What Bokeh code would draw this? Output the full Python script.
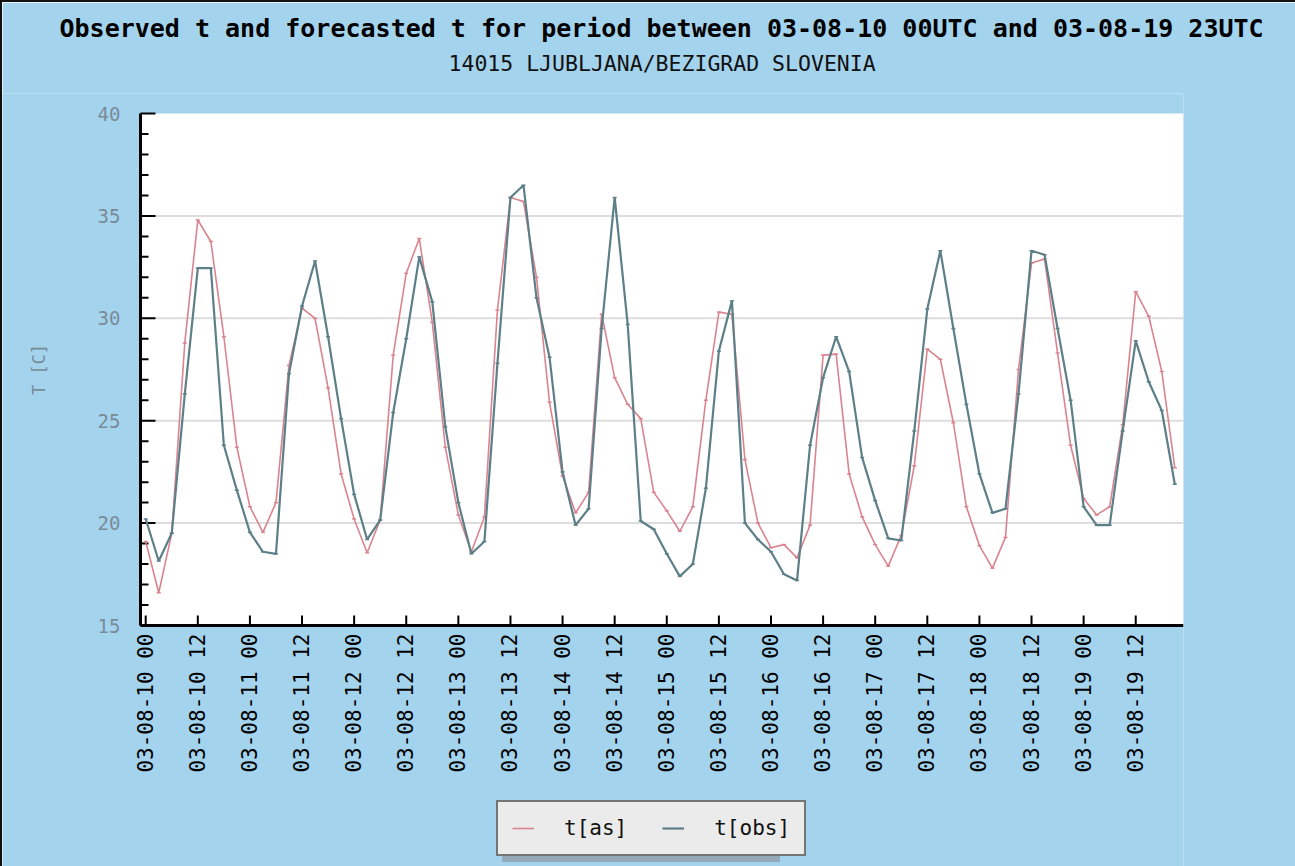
import math
from bokeh.plotting import figure
from bokeh.models import (Range1d, Title, Legend, LegendItem,
                          ColumnDataSource, BoxAnnotation)
from bokeh.core.properties import value
from bokeh.embed import file_html
from bokeh.resources import INLINE

# ---- data (3-hourly, 03-08-10 00UTC .. 03-08-19 21UTC) ----
days = ["10", "11", "12", "13", "14", "15", "16", "17", "18", "19"]
hours_of_day = [0, 3, 6, 9, 12, 15, 18, 21]

t_as = [
    19.1, 16.6, 19.5, 28.8, 34.8, 33.75, 29.1, 23.7,
    20.8, 19.55, 21.0, 27.7, 30.5, 30.0, 26.6, 22.4,
    20.2, 18.55, 20.15, 28.2, 32.2, 33.9, 29.8, 23.7,
    20.4, 18.6, 20.3, 30.4, 35.9, 35.7, 32.0, 25.9,
    22.3, 20.5, 21.5, 30.2, 27.1, 25.8, 25.1, 21.5,
    20.6, 19.6, 20.8, 26.0, 30.3, 30.2, 23.1, 20.0,
    18.8, 18.95, 18.3, 19.9, 28.2, 28.25, 22.4, 20.3,
    18.95, 17.9, 19.4, 22.8, 28.5, 28.0, 24.9, 20.8,
    18.9, 17.8, 19.3, 27.5, 32.7, 32.9, 28.3, 23.8,
    21.2, 20.4, 20.8, 24.8, 31.3, 30.1, 27.4, 22.7,
]

t_obs = [
    20.2, 18.15, 19.5, 26.3, 32.45, 32.45, 23.8, 21.6,
    19.55, 18.6, 18.5, 27.3, 30.6, 32.8, 29.1, 25.1,
    21.4, 19.2, 20.15, 25.4, 29.0, 33.0, 30.8, 24.7,
    21.0, 18.5, 19.1, 27.8, 35.9, 36.5, 31.0, 28.1,
    22.5, 19.9, 20.7, 29.5, 35.9, 29.7, 20.1, 19.7,
    18.5, 17.4, 18.0, 21.7, 28.4, 30.85, 20.0, 19.2,
    18.6, 17.5, 17.2, 23.8, 27.1, 29.1, 27.4, 23.2,
    21.1, 19.25, 19.15, 24.5, 30.45, 33.3, 29.5, 25.8,
    22.4, 20.5, 20.7, 26.3, 33.3, 33.1, 29.5, 26.0,
    20.8, 19.9, 19.9, 24.5, 28.9, 26.9, 25.5, 21.9,
]

y_ticks = [15, 20, 25, 30, 35, 40]
y_minor = [v for v in range(15, 41) if v % 5]
y_label = "T [C]"
title_text = "Observed t and forecasted t for period between 03-08-10 00UTC and 03-08-19 23UTC"
subtitle_text = "14015 LJUBLJANA/BEZIGRAD SLOVENIA"

# time axis in hours since 03-08-10 00UTC
hrs = [24 * di + h for di in range(len(days)) for h in hours_of_day]
tick_hours = [24 * di + h for di in range(len(days)) for h in (0, 12)]
tick_texts = ["03-08-%s %02d" % (d, h) for d in days for h in (0, 12)]

BG = "#a4d3ee"
MONO = "DejaVu Sans Mono"
RED = "#d9848f"
TEAL = "#5c7f88"
GRAY = "#7a8b98"

# ---- geometry of the single frame (plot area + its margins) ----
X0, X1 = -1.2, 239.0          # hours spanned by the white plot area
Y0, Y1 = y_ticks[0], y_ticks[-1]
PLOT_W, PLOT_H = 1043, 512    # pixels of the white plot area
LEFT_PX = 138                 # frame pixels left of the plot area
TOP_PX = 20                   # frame pixels above the plot area
FRAME_W = LEFT_PX + PLOT_W
FRAME_H = 773
hpx = PLOT_W / (X1 - X0)      # pixels per hour
vpx = PLOT_H / (Y1 - Y0)      # pixels per degree
x_lo = X0 - LEFT_PX / hpx
y_hi = Y1 + TOP_PX / vpx
y_lo = y_hi - FRAME_H / vpx

p = figure(frame_width=FRAME_W, frame_height=FRAME_H,
           x_range=Range1d(x_lo, X1), y_range=Range1d(y_lo, y_hi),
           x_axis_location=None, y_axis_location=None,
           output_backend="svg", toolbar_location=None,
           min_border_left=0, min_border_right=112,
           min_border_top=91, min_border_bottom=0)
p.title = None
p.background_fill_color = BG
p.border_fill_color = BG
p.outline_line_color = None
p.grid.visible = False
p.styles = {"border-left": "2px solid #111", "border-top": "2px solid #111"}

# white plotting area
p.add_layout(BoxAnnotation(left=X0, right=X1, bottom=Y0, top=Y1,
                           fill_color="white", fill_alpha=1,
                           line_color=None, level="underlay"))

# titles (first added = closest to frame); first one is an empty spacer
p.add_layout(Title(text=" ", text_font=MONO, text_font_size="10px",
                   standoff=5), "above")
p.add_layout(Title(text=subtitle_text, align="left", offset=446,
                   text_font=MONO, text_font_size="21.5px",
                   text_font_style="normal", text_color="#111111",
                   standoff=0), "above")
p.add_layout(Title(text=title_text, align="left", offset=57,
                   text_font=MONO, text_font_size="25px",
                   text_font_style="bold", text_color="#000000",
                   standoff=11), "above")

# horizontal grid lines inside the plot area
grid_vals = y_ticks[1:-1]
p.segment(x0=[X0] * len(grid_vals), x1=[X1] * len(grid_vals),
          y0=grid_vals, y1=grid_vals, line_color="#dddddd", line_width=2)

# ---- left axis: line, inward ticks, labels, title ----
p.segment(x0=[X0], x1=[X0], y0=[Y0], y1=[Y1], line_color="black",
          line_width=3)
p.ray(x=[X0] * len(y_ticks), y=y_ticks, length=15, length_units="screen",
      angle=0, line_color="black", line_width=2)
p.ray(x=[X0] * len(y_minor), y=y_minor, length=8, length_units="screen",
      angle=0, line_color="black", line_width=2)
p.text(x=[X0 - 20 / hpx] * len(y_ticks), y=y_ticks,
       text=[str(v) for v in y_ticks], text_align="right",
       text_baseline="middle", text_font=value(MONO),
       text_font_size="19px", text_color=GRAY)
p.text(x=[X0 - 102 / hpx], y=[(Y0 + Y1) / 2], text=[y_label],
       angle=math.pi / 2, text_align="center", text_baseline="middle",
       text_font=value(MONO), text_font_size="17px", text_color=GRAY)

# ---- bottom time axis: line, inward ticks and vertical labels ----
p.segment(x0=[X0], x1=[X1], y0=[Y0], y1=[Y0], line_color="black",
          line_width=3)
tick_src = ColumnDataSource(dict(x=tick_hours, y=[Y0] * len(tick_hours),
                                 ly=[Y0 - 8 / vpx] * len(tick_hours),
                                 text=tick_texts))
p.ray(x="x", y="y", source=tick_src, length=10, length_units="screen",
      angle=math.pi / 2, line_color="black", line_width=2)
p.text(x="x", y="ly", text="text", source=tick_src, angle=math.pi / 2,
       text_align="right", text_baseline="middle",
       text_font=value(MONO), text_font_size="21px", text_color="black")

# ---- series ----
src = ColumnDataSource(dict(x=hrs, t_as=t_as, t_obs=t_obs))
r_as = p.line("x", "t_as", source=src, line_color=RED, line_width=1.6)
p.scatter("x", "t_as", source=src, marker="dash", size=4, line_color=RED,
          line_width=1.5)
r_obs = p.line("x", "t_obs", source=src, line_color=TEAL, line_width=2.2)
p.scatter("x", "t_obs", source=src, marker="dash", size=4, line_color=TEAL,
          line_width=1.5)

# ---- legend with a drop shadow (shadow uses invisible renderers) ----
d1 = p.line([], [], line_alpha=0)
d2 = p.line([], [], line_alpha=0)
legend_kw = dict(orientation="horizontal",
                 label_text_font=MONO, label_text_font_size="21px",
                 glyph_width=22, glyph_height=20, label_standoff=30,
                 spacing=35, padding=14, margin=0)
shadow = Legend(items=[LegendItem(label="t[as]", renderers=[d1]),
                       LegendItem(label="t[obs]", renderers=[d2])],
                location=(500, 4),
                background_fill_color="#8f9ca6", background_fill_alpha=0.75,
                border_line_color=None, label_text_alpha=0, **legend_kw)
p.add_layout(shadow)
legend = Legend(items=[LegendItem(label="t[as]", renderers=[r_as]),
                       LegendItem(label="t[obs]", renderers=[r_obs])],
                location=(494, 10),
                background_fill_color="#ebebeb", background_fill_alpha=1,
                border_line_color="black", border_line_width=2,
                label_text_color="#111111", **legend_kw)
p.add_layout(legend)

open("out.html", "w").write(file_html(p, INLINE))
